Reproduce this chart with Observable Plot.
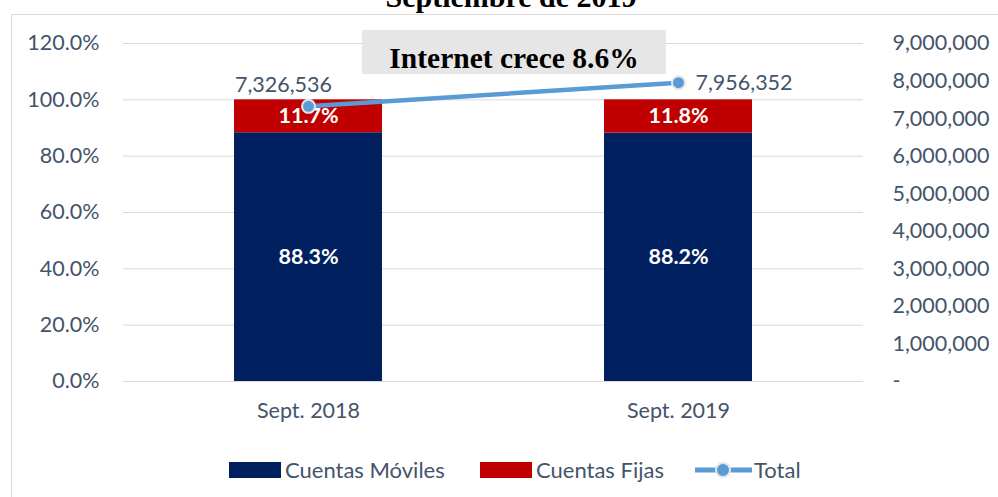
<!DOCTYPE html>
<html><head><meta charset="utf-8">
<script src="https://cdn.jsdelivr.net/npm/d3@7"></script>
<script src="https://cdn.jsdelivr.net/npm/@observablehq/plot@0.6"></script>
<style>
body{margin:0;background:#fff;overflow:hidden;}
#wrap{position:relative;width:998px;height:497px;overflow:hidden;font-family:Lato,"Open Sans",sans-serif;color:#44546A;}
#frame{position:absolute;left:11px;top:14px;width:1100px;height:600px;border:1px solid #d9d9d9;box-sizing:border-box;}
#chart{position:absolute;left:0;top:0;}
#title{position:absolute;left:24px;width:974px;top:-18px;text-align:center;font:bold 30px/30px "Liberation Serif","Times New Roman",serif;color:#000;white-space:nowrap;}
#note{position:absolute;left:362px;top:30px;width:304px;height:30px;padding-top:14px;background:#e6e6e6;text-align:center;font:bold 29.5px/29px "Liberation Serif","Times New Roman",serif;color:#000;white-space:nowrap;}
.lg{position:absolute;top:458px;height:24px;line-height:24px;font-size:22px;white-space:nowrap;}
.sw{position:absolute;width:52px;height:16px;top:462px;}
</style></head>
<body><div id="wrap">
<div id="frame"></div>
<div id="chart"></div>
<div id="title">Septiembre de 2019</div>
<div id="note">Internet crece 8.6%</div>
<div class="sw" style="left:229px;background:#002060"></div>
<div class="lg" style="left:285px">Cuentas Móviles</div>
<div class="sw" style="left:480px;background:#C00000"></div>
<div class="lg" style="left:536px">Cuentas Fijas</div>
<svg style="position:absolute;left:694px;top:461px" width="60" height="18"><line x1="1" y1="9" x2="58" y2="9" stroke="#5B9BD5" stroke-width="5"/><circle cx="29" cy="9" r="7" fill="#5B9BD5" stroke="#e6e6e6" stroke-width="2"/></svg>
<div class="lg" style="left:754px">Total</div>
</div>
<script>
const periods = ["Sept. 2018", "Sept. 2019"];
const series = ["Cuentas Móviles", "Cuentas Fijas"];
const movilesShare = [0.883, 0.882];
const fijasShare = [0.117, 0.118];
const totals = [7326536, 7956352];
const leftTicks = [0, 0.2, 0.4, 0.6, 0.8, 1.0, 1.2];
const rightTicks = [0, 1000000, 2000000, 3000000, 4000000, 5000000, 6000000, 7000000, 8000000, 9000000];
const leftMax = 1.2;
const rightMax = 9000000;

const toLeft = v => v / rightMax * leftMax;
const toRight = v => Math.round(v / leftMax * rightMax);

const rows = [];
periods.forEach((p, i) => {
  rows.push({period: p, serie: series[0], value: movilesShare[i]});
  rows.push({period: p, serie: series[1], value: fijasShare[i]});
});
const totalRows = periods.map((p, i) => ({period: p, total: totals[i]}));
const fmtN = d3.format(",");
const textColor = "#44546A";
const fs = 21.5;

const chart = Plot.plot({
  width: 998, height: 497,
  marginLeft: 123, marginRight: 135, marginTop: 43, marginBottom: 116,
  style: {fontFamily: "Lato, 'Open Sans', sans-serif", fontSize: fs + "px", color: textColor, background: "transparent"},
  x: {type: "band", domain: periods, paddingInner: 0.6, paddingOuter: 0.3, label: null},
  y: {domain: [0, leftMax], label: null},
  color: {domain: series, range: ["#002060", "#C00000"]},
  marks: [
    Plot.gridY(leftTicks, {stroke: "#d9d9d9", strokeOpacity: 1, strokeWidth: 1}),
    Plot.barY(rows, {x: "period", y: "value", fill: "serie"}),
    Plot.text(rows, Plot.stackY({x: "period", y: "value", text: d => (d.value * 100).toFixed(1) + "%", fill: "white", fontWeight: "bold", fontSize: fs})),
    Plot.line(totalRows, {x: "period", y: d => toLeft(d.total), stroke: "#5B9BD5", strokeWidth: 4.5}),
    Plot.dot(totalRows, {x: "period", y: d => toLeft(d.total), r: 6.5, fill: "#5B9BD5", stroke: "#e6e6e6", strokeWidth: 2}),
    Plot.text(totalRows.slice(0, 1), {x: "period", y: d => toLeft(d.total), text: d => fmtN(d.total), dx: -25, dy: -21, fill: textColor, fontSize: fs}),
    Plot.text(totalRows.slice(1), {x: "period", y: d => toLeft(d.total), text: d => fmtN(d.total), dx: 17, dy: 0, textAnchor: "start", fill: textColor, fontSize: fs}),
    Plot.axisY(leftTicks, {anchor: "left", tickSize: 0, tickPadding: 24, tickFormat: d => (d * 100).toFixed(1) + "%", color: textColor, fontSize: fs, label: null}),
    Plot.axisY(rightTicks.map(toLeft), {anchor: "right", tickSize: 0, tickPadding: 29, tickFormat: d => { const v = toRight(d); return v === 0 ? "-" : fmtN(v); }, color: textColor, fontSize: fs, label: null}),
    Plot.axisX({tickSize: 0, tickPadding: 21, color: textColor, fontSize: fs, label: null})
  ]
});
document.getElementById("chart").appendChild(chart);
</script>
</body></html>
